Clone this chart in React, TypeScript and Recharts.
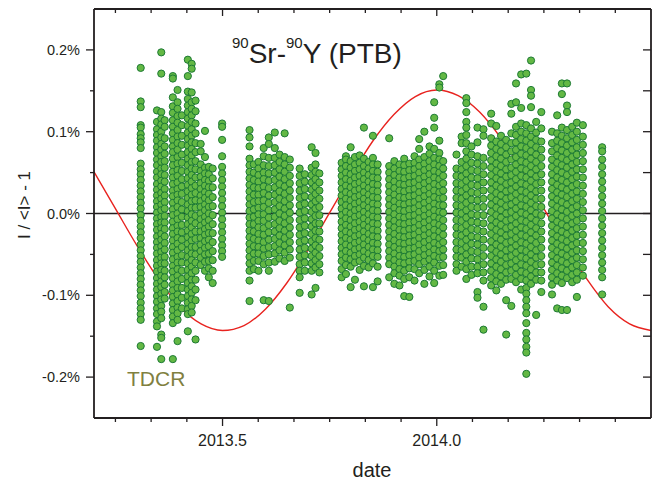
import React from "react";
import { ComposedChart, Scatter, Line, XAxis, YAxis, ReferenceLine } from "recharts";

// y values are in units of 0.01 % (10 -> 0.1 %)
const X_DOMAIN: [number, number] = [2013.2, 2014.5];
const Y_DOMAIN: [number, number] = [-25, 25];

const xTicks = [
  2013.25, 2013.3333, 2013.4167, 2013.5, 2013.5833, 2013.6667, 2013.75, 2013.8333,
  2013.9167, 2014.0, 2014.0833, 2014.1667, 2014.25, 2014.3333, 2014.4167,
];
const xMajor = [2013.5, 2014.0];
const xLabels = ["2013.5", "2014.0"];
const yTicks = [-20, -15, -10, -5, 0, 5, 10, 15, 20];
const yMajor = [-20, -10, 0, 10, 20];
const yLabels = ["-0.2%", "-0.1%", "0.0%", "0.1%", "0.2%"];

// fitted annual curve
const curveT = [
  2013.2, 2013.25, 2013.3, 2013.35, 2013.4, 2013.45, 2013.5, 2013.55, 2013.6, 2013.65,
  2013.7, 2013.75, 2013.8, 2013.85, 2013.9, 2013.95, 2014.0, 2014.05, 2014.1, 2014.15,
  2014.2, 2014.25, 2014.3, 2014.35, 2014.4, 2014.45, 2014.5,
];
const curveV = [
  5.1, 0.6, -3.9, -8.0, -11.4, -13.5, -14.3, -13.7, -11.7, -8.5,
  -4.4, 0.1, 4.6, 8.8, 12.1, 14.3, 15.1, 14.4, 12.4, 9.2,
  5.2, 0.6, -3.9, -8.0, -11.4, -13.5, -14.3,
];

// measurement runs: [date, values of that run]
const columns: [number, number[]][] = [
  [2013.309, [17.8, 13.7, 13.0, 10.8, 10.5, 9.7, 9.2, 8.7, 8.0, 6.1, 5.4, 4.8, 4.1, 3.4, 2.7, 2.0, 1.3, 0.6, -0.2, -0.9, -1.6, -2.3, -3.0, -3.8, -4.5, -5.2, -5.9, -6.6, -7.3, -8.0, -8.7, -9.4, -10.1, -10.9, -11.6, -12.3, -13.0, -16.2]],
  [2013.347, [12.6, 11.2, 10.3, 9.6, 8.9, 8.1, 7.4, 6.6, 5.9, 5.1, 4.4, 3.6, 2.9, 2.2, 1.5, 0.8, 0.1, -0.6, -1.3, -2.0, -2.8, -3.5, -4.2, -4.9, -5.7, -6.4, -7.1, -7.9, -8.6, -9.3, -10.1, -10.8, -11.6, -12.3, -13.2, -13.8, -16.3]],
  [2013.357, [19.7, 17.1, 12.4, 11.6, 10.9, 10.0, 9.3, 8.5, 7.8, 7.0, 6.3, 5.5, 4.8, 4.0, 3.3, 2.5, 1.8, 1.1, 0.4, -0.4, -1.1, -1.8, -2.5, -3.2, -4.0, -4.7, -5.4, -6.1, -6.9, -7.6, -8.3, -9.0, -9.8, -10.5, -11.3, -12.0, -12.8, -14.8, -15.2, -17.8]],
  [2013.365, [11.4, 10.6, 9.2, 8.2, 7.3, 6.4, 5.6, 4.7, 3.9, 3.0, 2.2, 1.4, 0.6, -0.3, -1.1, -1.9, -2.8, -3.6, -4.4, -5.3, -6.1, -7.0, -7.8, -8.7, -9.6, -10.4]],
  [2013.384, [16.8, 16.5, 14.2, 13.1, 12.3, 11.4, 10.6, 9.8, 9.0, 8.2, 7.5, 6.7, 5.9, 5.1, 4.4, 3.6, 2.8, 2.1, 1.3, 0.5, -0.2, -1.0, -1.8, -2.5, -3.3, -4.1, -4.8, -5.6, -6.4, -7.1, -7.9, -8.7, -9.4, -10.2, -11.0, -11.8, -12.6, -13.4, -17.8]],
  [2013.395, [15.1, 13.6, 12.8, 11.9, 11.1, 10.2, 9.4, 8.6, 7.8, 6.9, 6.1, 5.3, 4.6, 3.8, 3.0, 2.3, 1.6, 0.8, 0.0, -0.7, -1.5, -2.2, -3.0, -3.7, -4.5, -5.3, -6.0, -6.8, -7.6, -8.3, -9.1, -9.9, -10.7, -11.5, -12.2, -13.0, -15.6]],
  [2013.405, [12.0, 10.8, 9.5, 8.4, 7.2, 6.2, 5.2, 4.2, 3.3, 2.4, 1.4, 0.5, -0.4, -1.4, -2.3, -3.2, -4.1, -5.1, -6.0, -7.0, -8.0, -9.1, -10.3, -11.6]],
  [2013.419, [18.8, 16.8, 14.9, 14.0, 13.2, 12.4, 11.6, 10.7, 9.9, 9.1, 8.3, 7.5, 6.7, 5.9, 5.1, 4.3, 3.5, 2.7, 1.9, 1.1, 0.3, -0.5, -1.3, -2.1, -2.9, -3.7, -4.5, -5.3, -6.1, -6.9, -7.7, -8.5, -9.3, -10.1, -10.9, -11.7, -12.3, -14.4]],
  [2013.428, [18.3, 17.7, 14.8, 13.6, 12.8, 12.0, 11.2, 10.3, 9.5, 8.7, 7.9, 7.1, 6.3, 5.5, 4.7, 3.9, 3.1, 2.3, 1.5, 0.7, -0.1, -0.9, -1.7, -2.5, -3.3, -4.1, -4.9, -5.7, -6.5, -7.3, -8.1, -8.9, -9.7, -10.5, -11.3, -12.1]],
  [2013.437, [13.8, 12.5, 11.0, 9.8, 8.6, 7.5, 6.4, 5.4, 4.4, 3.4, 2.5, 1.6, 0.7, -0.3, -1.2, -2.2, -3.1, -4.1, -5.0, -6.0, -7.0, -8.1, -9.3, -10.6, -15.4]],
  [2013.449, [8.5, 7.6, 6.0, 5.2, 4.5, 3.7, 3.0, 2.2, 1.5, 0.8, 0.0, -0.7, -1.5, -2.2, -3.0, -3.8, -4.6, -5.4, -6.3]],
  [2013.459, [10.1, 6.9, 5.6, 4.9, 4.1, 3.4, 2.6, 1.9, 1.1, 0.4, -0.4, -1.1, -1.9, -2.6, -3.4, -4.2, -5.0, -5.9, -7.0]],
  [2013.468, [5.7, 4.8, 4.0, 3.2, 2.4, 1.6, 0.8, 0.0, -0.8, -1.6, -2.4, -3.2, -4.0, -4.9, -5.8, -6.7, -7.8]],
  [2013.477, [5.5, 4.3, 3.2, 2.0, 0.9, -0.2, -1.3, -2.4, -3.5, -4.6, -5.7, -7.0, -8.5]],
  [2013.499, [11.0, 10.6, 9.0, 7.0, 5.7, 4.9, 4.1, 3.3, 2.5, 1.7, 0.9, 0.1, -0.7, -1.5, -2.3, -3.1, -3.9, -4.6, -5.3]],
  [2013.563, [10.2, 9.3, 8.2, 6.7, 5.9, 5.1, 4.3, 3.5, 2.7, 1.9, 1.1, 0.3, -0.5, -1.3, -2.1, -2.9, -3.7, -4.5, -5.3, -6.1, -7.0, -8.2, -10.7]],
  [2013.573, [6.0, 5.0, 4.1, 3.2, 2.3, 1.4, 0.5, -0.4, -1.3, -2.2, -3.1, -4.0, -4.9, -5.8, -6.8]],
  [2013.584, [6.3, 5.5, 4.7, 3.9, 3.1, 2.3, 1.5, 0.7, -0.1, -0.9, -1.7, -2.5, -3.3, -4.1, -4.9, -5.8, -7.0]],
  [2013.596, [8.0, 7.0, 5.9, 5.0, 4.2, 3.3, 2.5, 1.6, 0.8, -0.1, -0.9, -1.8, -2.6, -3.5, -4.3, -5.2, -6.2, -10.6]],
  [2013.608, [9.3, 8.5, 6.8, 5.8, 4.9, 4.0, 3.1, 2.2, 1.3, 0.4, -0.5, -1.4, -2.3, -3.2, -4.1, -5.0, -6.0, -7.0, -10.7]],
  [2013.622, [9.9, 8.0, 6.8, 5.9, 5.0, 4.1, 3.2, 2.3, 1.4, 0.5, -0.4, -1.3, -2.2, -3.1, -4.0, -4.9, -5.9]],
  [2013.633, [7.2, 6.3, 5.4, 4.5, 3.6, 2.7, 1.8, 0.9, 0.0, -0.9, -1.8, -2.7, -3.6, -4.5, -5.5]],
  [2013.645, [9.8, 6.9, 6.0, 5.1, 4.2, 3.3, 2.4, 1.5, 0.6, -0.3, -1.2, -2.1, -3.0, -3.9, -4.8, -5.8]],
  [2013.657, [6.6, 5.6, 4.6, 3.7, 2.8, 1.9, 1.0, 0.1, -0.8, -1.7, -2.6, -3.5, -4.4, -5.4, -11.5]],
  [2013.680, [5.5, 4.6, 3.7, 2.8, 1.9, 1.0, 0.1, -0.8, -1.7, -2.6, -3.5, -4.4, -5.3, -6.2, -7.0, -7.8, -9.7]],
  [2013.692, [4.8, 3.9, 3.0, 2.1, 1.2, 0.3, -0.6, -1.5, -2.4, -3.3, -4.2, -5.1, -6.0, -7.0]],
  [2013.708, [8.1, 5.6, 4.7, 3.8, 2.9, 2.0, 1.1, 0.2, -0.7, -1.6, -2.5, -3.4, -4.3, -5.2, -6.1, -7.0, -9.9]],
  [2013.717, [7.4, 6.0, 5.1, 4.2, 3.3, 2.4, 1.5, 0.6, -0.3, -1.2, -2.1, -3.0, -3.9, -4.8, -5.7, -6.6, -9.1]],
  [2013.726, [4.9, 3.8, 2.8, 1.8, 0.8, -0.2, -1.2, -2.2, -3.2, -4.2, -5.2, -6.2, -7.2]],
  [2013.778, [6.2, 5.4, 4.6, 3.8, 3.0, 2.2, 1.4, 0.6, -0.2, -1.0, -1.8, -2.6, -3.4, -4.2, -5.0, -5.8, -6.8, -7.8]],
  [2013.788, [7.0, 6.6, 5.8, 5.0, 4.2, 3.4, 2.6, 1.8, 1.0, 0.2, -0.6, -1.4, -2.2, -3.0, -3.8, -4.6, -5.4, -6.3, -7.4]],
  [2013.799, [8.1, 6.4, 5.6, 4.8, 4.0, 3.2, 2.4, 1.6, 0.8, 0.0, -0.8, -1.6, -2.4, -3.2, -4.0, -4.8, -5.6, -6.5, -9.0]],
  [2013.809, [6.9, 6.0, 5.2, 4.4, 3.6, 2.8, 2.0, 1.2, 0.4, -0.4, -1.2, -2.0, -2.8, -3.6, -4.4, -5.2, -6.0, -8.1]],
  [2013.820, [7.1, 6.2, 5.4, 4.6, 3.8, 3.0, 2.2, 1.4, 0.6, -0.2, -1.0, -1.8, -2.6, -3.4, -4.2, -5.0, -5.8, -6.9]],
  [2013.830, [10.5, 6.7, 5.8, 5.0, 4.2, 3.4, 2.6, 1.8, 1.0, 0.2, -0.6, -1.4, -2.2, -3.0, -3.8, -4.6, -5.4, -6.4, -8.9]],
  [2013.841, [6.3, 5.5, 4.7, 3.9, 3.1, 2.3, 1.5, 0.7, -0.1, -0.9, -1.7, -2.5, -3.3, -4.1, -4.9, -5.7, -6.6]],
  [2013.851, [9.5, 6.8, 6.0, 5.2, 4.4, 3.6, 2.8, 2.0, 1.2, 0.4, -0.4, -1.2, -2.0, -2.8, -3.6, -4.4, -5.2, -6.1, -9.0]],
  [2013.862, [6.0, 5.1, 4.3, 3.5, 2.7, 1.9, 1.1, 0.3, -0.5, -1.3, -2.1, -2.9, -3.7, -4.5, -5.3, -6.5, -8.3]],
  [2013.889, [9.2, 5.8, 5.0, 4.2, 3.4, 2.6, 1.8, 1.0, 0.2, -0.6, -1.4, -2.2, -3.0, -3.8, -4.6, -5.4, -6.2, -7.8]],
  [2013.901, [6.4, 5.5, 4.7, 3.9, 3.1, 2.3, 1.5, 0.7, -0.1, -0.9, -1.7, -2.5, -3.3, -4.1, -4.9, -5.7, -6.5, -7.3, -8.6]],
  [2013.913, [6.0, 5.2, 4.4, 3.6, 2.8, 2.0, 1.2, 0.4, -0.4, -1.2, -2.0, -2.8, -3.6, -4.4, -5.2, -6.0, -6.8, -7.6, -8.8]],
  [2013.924, [6.7, 5.9, 5.1, 4.3, 3.5, 2.7, 1.9, 1.1, 0.3, -0.5, -1.3, -2.1, -2.9, -3.7, -4.5, -5.3, -6.1, -7.0, -8.0, -10.1]],
  [2013.936, [6.1, 5.3, 4.5, 3.7, 2.9, 2.1, 1.3, 0.5, -0.3, -1.1, -1.9, -2.7, -3.5, -4.3, -5.1, -5.9, -6.7, -7.8, -10.2]],
  [2013.948, [7.0, 6.2, 5.4, 4.6, 3.8, 3.0, 2.2, 1.4, 0.6, -0.2, -1.0, -1.8, -2.6, -3.4, -4.2, -5.0, -5.8, -6.8, -8.2]],
  [2013.959, [9.1, 7.9, 6.6, 5.8, 5.0, 4.2, 3.4, 2.6, 1.8, 1.0, 0.2, -0.6, -1.4, -2.2, -3.0, -3.8, -4.6, -5.4, -6.2, -7.3]],
  [2013.971, [10.0, 6.9, 6.1, 5.3, 4.5, 3.7, 2.9, 2.1, 1.3, 0.5, -0.3, -1.1, -1.9, -2.7, -3.5, -4.3, -5.1, -5.9, -6.9, -8.6]],
  [2013.983, [8.2, 7.3, 6.4, 5.6, 4.8, 4.0, 3.2, 2.4, 1.6, 0.8, 0.0, -0.8, -1.6, -2.4, -3.2, -4.0, -4.8, -5.6, -6.5, -7.7]],
  [2013.994, [13.6, 11.7, 10.5, 7.9, 6.8, 6.0, 5.2, 4.4, 3.6, 2.8, 2.0, 1.2, 0.4, -0.4, -1.2, -2.0, -2.8, -3.6, -4.4, -5.2, -6.0, -7.0, -8.5]],
  [2014.006, [15.8, 15.4, 8.9, 7.4, 6.6, 5.8, 5.0, 4.2, 3.4, 2.6, 1.8, 1.0, 0.2, -0.6, -1.4, -2.2, -3.0, -3.8, -4.6, -5.4, -6.4, -7.6]],
  [2014.015, [16.8, 6.4, 5.5, 4.6, 3.7, 2.8, 1.9, 1.0, 0.1, -0.8, -1.7, -2.6, -3.5, -4.4, -5.3, -6.3, -7.5]],
  [2014.046, [7.2, 5.5, 4.6, 3.7, 2.8, 1.9, 1.0, 0.1, -0.8, -1.7, -2.6, -3.5, -4.4, -5.3, -6.2, -7.0]],
  [2014.058, [9.4, 8.6, 6.3, 5.4, 4.5, 3.6, 2.7, 1.8, 0.9, 0.0, -0.9, -1.8, -2.7, -3.6, -4.5, -5.4, -6.5]],
  [2014.069, [14.1, 13.5, 12.4, 11.2, 10.5, 9.6, 8.6, 7.6, 6.7, 5.8, 4.9, 4.0, 3.1, 2.2, 1.3, 0.4, -0.5, -1.4, -2.3, -3.2, -4.1, -5.0, -5.9, -6.8, -8.0]],
  [2014.081, [8.2, 7.2, 6.2, 5.3, 4.4, 3.5, 2.6, 1.7, 0.8, -0.1, -1.0, -1.9, -2.8, -3.7, -4.6, -5.5, -6.5, -7.5]],
  [2014.095, [10.5, 8.7, 7.0, 6.1, 5.2, 4.3, 3.4, 2.5, 1.6, 0.7, -0.2, -1.1, -2.0, -2.9, -3.8, -4.7, -5.6, -6.5, -7.3, -9.6, -10.3]],
  [2014.109, [10.3, 9.5, 6.8, 5.8, 4.8, 3.8, 2.8, 1.8, 0.8, -0.2, -1.2, -2.2, -3.2, -4.2, -5.2, -6.2, -7.2, -8.2, -11.4, -14.2]],
  [2014.127, [12.2, 11.0, 9.2, 8.3, 7.4, 6.5, 5.6, 4.7, 3.8, 2.9, 2.0, 1.1, 0.2, -0.7, -1.6, -2.5, -3.4, -4.3, -5.2, -6.1, -7.0, -7.9, -8.8]],
  [2014.139, [10.7, 8.8, 7.9, 7.0, 6.1, 5.2, 4.3, 3.4, 2.5, 1.6, 0.7, -0.2, -1.1, -2.0, -2.9, -3.8, -4.7, -5.6, -6.5, -7.4, -8.3, -9.4]],
  [2014.150, [9.5, 8.5, 7.6, 6.7, 5.8, 4.9, 4.0, 3.1, 2.2, 1.3, 0.4, -0.5, -1.4, -2.3, -3.2, -4.1, -5.0, -5.9, -6.8, -7.7, -8.6]],
  [2014.162, [9.0, 8.1, 7.2, 6.3, 5.4, 4.5, 3.6, 2.7, 1.8, 0.9, 0.0, -0.9, -1.8, -2.7, -3.6, -4.5, -5.4, -6.3, -7.2, -8.1, -10.6, -14.8]],
  [2014.174, [13.4, 12.2, 9.8, 8.6, 7.6, 6.6, 5.6, 4.7, 3.8, 2.9, 2.0, 1.1, 0.2, -0.7, -1.6, -2.5, -3.4, -4.3, -5.2, -6.1, -7.0, -8.0, -11.3]],
  [2014.185, [15.9, 13.6, 10.6, 9.6, 8.7, 7.8, 6.9, 6.0, 5.1, 4.2, 3.3, 2.4, 1.5, 0.6, -0.3, -1.2, -2.1, -3.0, -3.9, -4.8, -5.7, -6.6, -7.5, -8.4]],
  [2014.197, [17.0, 12.9, 11.0, 10.0, 9.1, 8.2, 7.3, 6.4, 5.5, 4.6, 3.7, 2.8, 1.9, 1.0, 0.1, -0.8, -1.7, -2.6, -3.5, -4.4, -5.3, -6.2, -7.1, -8.0, -9.3]],
  [2014.209, [17.1, 10.8, 9.8, 8.9, 8.0, 7.1, 6.2, 5.3, 4.4, 3.5, 2.6, 1.7, 0.8, -0.1, -1.0, -1.9, -2.8, -3.7, -4.6, -5.5, -6.4, -7.3, -8.2, -9.1, -9.8, -10.6, -11.4, -12.2, -13.4, -14.6, -15.4, -16.3, -17.0, -19.6]],
  [2014.220, [18.7, 15.1, 14.4, 13.0, 10.4, 9.4, 8.5, 7.6, 6.7, 5.8, 4.9, 4.0, 3.1, 2.2, 1.3, 0.4, -0.5, -1.4, -2.3, -3.2, -4.1, -5.0, -5.9, -6.8, -7.7, -8.6]],
  [2014.232, [11.2, 9.9, 9.0, 8.1, 7.2, 6.3, 5.4, 4.5, 3.6, 2.7, 1.8, 0.9, 0.0, -0.9, -1.8, -2.7, -3.6, -4.5, -5.4, -6.3, -7.2, -8.1, -12.4]],
  [2014.244, [12.4, 10.4, 8.8, 7.8, 6.8, 5.8, 4.8, 3.8, 2.8, 1.8, 0.8, -0.2, -1.2, -2.2, -3.2, -4.2, -5.2, -6.2, -7.2, -8.2, -9.6]],
  [2014.269, [10.0, 8.6, 7.6, 6.6, 5.7, 4.8, 3.9, 3.0, 2.1, 1.2, 0.3, -0.6, -1.5, -2.4, -3.3, -4.2, -5.1, -6.0, -6.9, -7.8, -8.7, -9.9]],
  [2014.281, [12.0, 9.8, 8.9, 8.0, 7.1, 6.2, 5.3, 4.4, 3.5, 2.6, 1.7, 0.8, -0.1, -1.0, -1.9, -2.8, -3.7, -4.6, -5.5, -6.4, -7.3, -8.2, -11.6]],
  [2014.292, [15.9, 14.6, 10.5, 9.5, 8.6, 7.7, 6.8, 5.9, 5.0, 4.1, 3.2, 2.3, 1.4, 0.5, -0.4, -1.3, -2.2, -3.1, -4.0, -4.9, -5.8, -6.7, -7.6, -8.5, -11.8]],
  [2014.304, [15.9, 13.2, 12.4, 10.2, 9.2, 8.3, 7.4, 6.5, 5.6, 4.7, 3.8, 2.9, 2.0, 1.1, 0.2, -0.7, -1.6, -2.5, -3.4, -4.3, -5.2, -6.1, -7.0, -7.9, -11.8]],
  [2014.316, [10.6, 9.6, 8.7, 7.8, 6.9, 6.0, 5.1, 4.2, 3.3, 2.4, 1.5, 0.6, -0.3, -1.2, -2.1, -3.0, -3.9, -4.8, -5.7, -6.6, -7.5, -8.4]],
  [2014.327, [11.1, 10.0, 9.0, 8.1, 7.2, 6.3, 5.4, 4.5, 3.6, 2.7, 1.8, 0.9, 0.0, -0.9, -1.8, -2.7, -3.6, -4.5, -5.4, -6.3, -7.2, -8.1, -10.2]],
  [2014.341, [10.8, 9.4, 8.4, 7.4, 6.4, 5.4, 4.4, 3.4, 2.4, 1.4, 0.4, -0.6, -1.6, -2.6, -3.6, -4.6, -5.6, -6.6, -7.6]],
  [2014.386, [8.1, 7.6, 6.6, 5.7, 4.8, 3.9, 3.0, 2.1, 1.2, 0.3, -0.6, -1.5, -2.4, -3.3, -4.2, -5.1, -6.0, -6.9, -7.8, -9.9]],
];

const INK = "#231f20";
const RED = "#e8231f";
const FONT = "'Liberation Sans', Arial, Helvetica, sans-serif";

const points = columns.flatMap(([t, vs]) => vs.map((v) => ({ t, v })));
const curve = curveT.map((t, i) => ({ t, v: curveV[i] }));

const majorIndex = (list: number[], value: number) =>
  list.findIndex((m) => Math.abs(m - value) < 1e-3);

function BottomTick({ x, y, payload }: any) {
  const i = majorIndex(xMajor, payload.value);
  return (
    <g>
      <line x1={x} x2={x} y1={y} y2={y + (i >= 0 ? 8 : 4)} stroke={INK} strokeWidth={1.3} />
      {i >= 0 && (
        <text x={x} y={y + 28} textAnchor="middle" fontSize={16} fontFamily={FONT} fill={INK}>
          {xLabels[i]}
        </text>
      )}
    </g>
  );
}

function TopTick({ x, y, payload }: any) {
  const major = majorIndex(xMajor, payload.value) >= 0;
  return <line x1={x} x2={x} y1={y} y2={y + (major ? 7 : 4)} stroke={INK} strokeWidth={1.3} />;
}

function LeftTick({ x, y, payload }: any) {
  const i = majorIndex(yMajor, payload.value);
  return (
    <g>
      <line x1={x - (i >= 0 ? 8 : 4)} x2={x} y1={y} y2={y} stroke={INK} strokeWidth={1.3} />
      {i >= 0 && (
        <text x={x - 14} y={y + 5} textAnchor="end" fontSize={14.5} fontFamily={FONT} fill={INK}>
          {yLabels[i]}
        </text>
      )}
    </g>
  );
}

function RightTick({ x, y }: any) {
  return <line x1={x - 8} x2={x} y1={y} y2={y} stroke={INK} strokeWidth={1.3} />;
}

const Dot = (p: any) => (
  <circle cx={p.cx} cy={p.cy} r={3.6} fill="#63b844" stroke="#1d7a35" strokeWidth={1} />
);

const frame = { stroke: INK, strokeWidth: 1.8 };

export default function App() {
  return (
    <div style={{ position: "absolute", left: 0, top: 0, width: 657, height: 482, background: "#fff" }}>
      <ComposedChart width={657} height={482} margin={{ top: 0, right: 0, bottom: 0, left: 0 }}>
        <XAxis
          xAxisId="bottom"
          dataKey="t"
          type="number"
          domain={X_DOMAIN}
          ticks={xTicks}
          interval={0}
          height={64}
          tickSize={0}
          tickMargin={0}
          tickLine={false}
          axisLine={frame}
          tick={BottomTick}
          allowDataOverflow
        />
        <XAxis
          xAxisId="top"
          orientation="top"
          dataKey="t"
          type="number"
          domain={X_DOMAIN}
          ticks={xTicks}
          interval={0}
          height={9}
          tickSize={0}
          tickMargin={0}
          tickLine={false}
          axisLine={frame}
          tick={TopTick}
          allowDataOverflow
        />
        <YAxis
          yAxisId="left"
          type="number"
          domain={Y_DOMAIN}
          ticks={yTicks}
          interval={0}
          width={94}
          tickSize={0}
          tickMargin={0}
          tickLine={false}
          axisLine={frame}
          tick={LeftTick}
          allowDataOverflow
        />
        <YAxis
          yAxisId="right"
          orientation="right"
          type="number"
          domain={Y_DOMAIN}
          ticks={yTicks}
          interval={0}
          width={6}
          tickSize={0}
          tickMargin={0}
          tickLine={false}
          axisLine={frame}
          tick={RightTick}
          allowDataOverflow
        />
        <Scatter
          xAxisId="bottom"
          yAxisId="left"
          data={points}
          dataKey="v"
          shape={Dot}
          isAnimationActive={false}
        />
        <ReferenceLine xAxisId="bottom" yAxisId="left" y={0} stroke={INK} strokeWidth={1.3} />
        <Line
          xAxisId="bottom"
          yAxisId="left"
          data={curve}
          dataKey="v"
          type="monotone"
          dot={false}
          activeDot={false}
          stroke={RED}
          strokeWidth={1.4}
          isAnimationActive={false}
        />
      </ComposedChart>
      <svg
        width={657}
        height={482}
        style={{ position: "absolute", left: 0, top: 0, pointerEvents: "none" }}
        fontFamily={FONT}
      >
        <text x={232} y={63} fill={INK} fontSize={28}>
          <tspan fontSize={15} dy={-15}>90</tspan>
          <tspan dy={15}>Sr-</tspan>
          <tspan fontSize={15} dy={-15}>90</tspan>
          <tspan dy={15}>Y (PTB)</tspan>
        </text>
        <text x={127} y={386} fill="#808040" fontSize={21}>TDCR</text>
        <text x={372} y={477} fill={INK} fontSize={20} textAnchor="middle">date</text>
        <text
          x={30}
          y={205}
          fill={INK}
          fontSize={17}
          textAnchor="middle"
          transform="rotate(-90 30 205)"
        >
          I / &lt;I&gt; - 1
        </text>
      </svg>
    </div>
  );
}
